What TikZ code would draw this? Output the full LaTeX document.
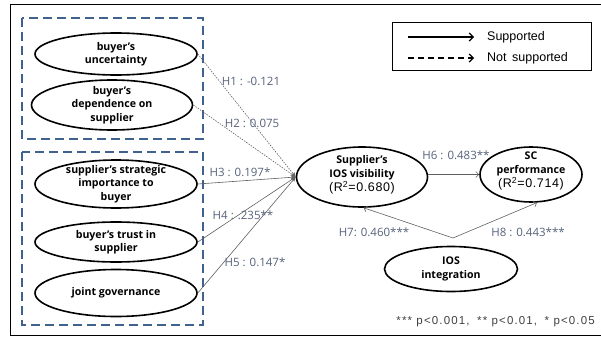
\documentclass[tikz,border=0pt]{standalone}
\usepackage{fontspec}
\setmainfont{Open Sans}
\newfontfamily\arialf{Liberation Sans}
\newfontfamily\widef[LetterSpace=10]{Liberation Sans}
\newfontfamily\rsqf[LetterSpace=5]{Liberation Sans}
\usetikzlibrary{shapes.geometric,arrows.meta}
\definecolor{boxblue}{HTML}{41628F}
\definecolor{lblcol}{HTML}{56627A}
\definecolor{lncol}{HTML}{606060}
\begin{document}
\begin{tikzpicture}[x=1pt,y=-1pt,
 ell/.style={draw=black,line width=1.6pt,ellipse,inner sep=0pt},
 etext/.style={font=\fontsize{10.6}{13.5}\selectfont\bfseries,align=center,inner sep=0pt},
 rtext/.style={font=\rsqf\fontsize{12.5}{14}\selectfont},
 grp/.style={draw=boxblue,line width=1.6pt,dash pattern=on 9pt off 5pt},
 hl/.style={font=\fontsize{11.5}{13}\selectfont,text=lblcol,inner sep=0pt},
 sup/.style={draw=lncol,line width=0.6pt,-{Stealth[length=5pt,width=4pt]}},
 opn/.style={draw=lncol,line width=0.6pt,-{Straight Barb[length=3pt,width=6pt]}},
 nsup/.style={draw=lncol,line width=0.6pt,dash pattern=on 1.5pt off 1.2pt,-{Stealth[length=5pt,width=4pt]}},
 legtxt/.style={font=\arialf\fontsize{12.5}{14}\selectfont,anchor=west,inner sep=0pt},
]
\useasboundingbox (0,0) rectangle (601,337);
\draw[line width=1pt] (10,5) rectangle (608,335);
% group boxes
\draw[grp] (22,18) rectangle (203,139);
\draw[grp] (22,152) rectangle (203,325);
% left ellipses
\node[ell,minimum width=162pt,minimum height=42pt] (u) at (116,54) {};
\node[etext] at (u) {buyer’s\\uncertainty};
\node[ell,minimum width=161pt,minimum height=50pt] (d) at (112,105) {};
\node[etext] at (d) {buyer’s\\dependence on\\supplier};
\node[ell,minimum width=162pt,minimum height=48pt] (s) at (116,184) {};
\node[etext] at (s) {supplier’s strategic\\importance to\\buyer};
\node[ell,minimum width=162pt,minimum height=40pt] (t) at (116,242) {};
\node[etext] at (t) {buyer’s trust in\\supplier};
\node[ell,minimum width=162pt,minimum height=47pt] (j) at (116,293) {};
\node[etext] at (j) {joint governance};
% right ellipses
\node[ell,minimum width=131pt,minimum height=60pt] (v) at (362,177) {};
\node[etext,anchor=south] (vt) at (362,180) {Supplier’s\\IOS visibility};
\node[rtext,anchor=north,inner sep=0pt] at (362,181) {(R\textsuperscript{2}=0.680)};
\node[ell,minimum width=102pt,minimum height=55pt] (p) at (531,174.5) {};
\node[etext,anchor=south] (pt) at (531,176) {SC\\performance};
\node[rtext,anchor=north,inner sep=0pt] at (531,177) {(R\textsuperscript{2}=0.714)};
\node[ell,minimum width=133pt,minimum height=45pt] (g) at (451,269) {};
\node[etext] at (g) {IOS\\integration};
% connectors
\draw[nsup] (u.east) -- (v.west);
\draw[nsup] (d.east) -- (v.west);
\draw[sup] (s.east) -- (v.west);
\draw[sup] (t.east) -- (v.west);
\draw[sup] (j.east) -- (v.west);
\draw[opn] (v.east |- p.west) -- (p.west);
\coordinate (apex) at (453,238);
\draw[opn] (apex) -- (v.-87);
\draw[opn] (apex) -- (p.-78);
% labels
\node[hl] at (251,81) {H1 : -0.121};
\node[hl] at (252,123) {H2 : 0.075};
\node[hl] at (240,172) {H3 : 0.197*};
\node[hl] at (243,215) {H4 : .235**};
\node[hl] at (255,262) {H5 : 0.147*};
\node[hl] at (456,155) {H6 : 0.483**};
\node[hl] at (374,232) {H7: 0.460***};
\node[hl] at (528,232) {H8 : 0.443***};
% legend
\draw[line width=0.7pt] (392,22) rectangle (591,70);
\coordinate (l1a) at (408,37); \coordinate (l1b) at (474,37);
\coordinate (l2a) at (408,58); \coordinate (l2b) at (474,58);
\draw[line width=1.2pt,-{Straight Barb[length=4pt,width=8pt]}] (l1a) -- (l1b);
\draw[line width=1.2pt,dash pattern=on 6pt off 4pt,-{Straight Barb[length=4pt,width=8pt]}] (l2a) -- (l2b);
\node[legtxt] (ls) at (487,37) {Supported};
\node[legtxt] (ln) at (487,58) {Not\, supported};
% footnote
\node[font=\widef\fontsize{11.5}{13}\selectfont,text=black!75,anchor=east,inner sep=0pt] (fn) at (595,322) {*** p<0.001,\; ** p<0.01,\; * p<0.05};
\end{tikzpicture}
\end{document}
